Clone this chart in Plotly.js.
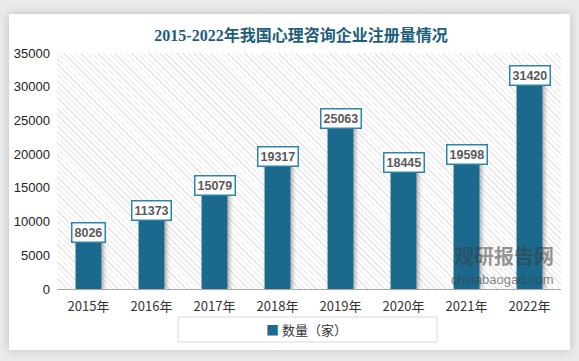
<!DOCTYPE html>
<html><head><meta charset="utf-8">
<script src="https://cdn.plot.ly/plotly-3.0.1.min.js"></script>
<style>
html,body{margin:0;padding:0;width:579px;height:361px;overflow:hidden;background:#e9e9e9;}
#card{position:absolute;left:9px;top:14px;width:561px;height:336px;background:#fff;box-shadow:0 0 8px rgba(0,0,0,0.18);}
#hatch{position:absolute;left:57px;top:53px;width:504px;height:236px;
background:repeating-linear-gradient(45deg,#ffffff 0px,#ffffff 3px,#e6e6e6 3px,#e6e6e6 4px);}
#chart{position:absolute;left:0;top:0;width:579px;height:361px;}
.bars .point path{filter:drop-shadow(2px 1px 2px rgba(0,0,0,0.35));}
</style></head>
<body>
<div id="card"></div>
<div id="hatch"></div>
<div id="chart"></div>
<script>
const years = ['2015年','2016年','2017年','2018年','2019年','2020年','2021年','2022年'];
const counts = [8026, 11373, 15079, 19317, 25063, 18445, 19598, 31420];
const seriesName = '数量（家）';
const titleText = '2015-2022年我国心理咨询企业注册量情况';

const barColor = '#1b6a8e';
const labelAnn = years.map((y,i)=>({
  x:y, y:counts[i], xref:'x', yref:'y', text:String(counts[i]), showarrow:false,
  yanchor:'middle', yshift:2, bgcolor:'#ffffff', bordercolor:'#2b84ad', borderwidth:1.5, borderpad:2,
  font:{family:'Liberation Sans, Arial, sans-serif', size:12.5, color:'#595959', weight:'bold'}
}));
const watermark = [
  {xref:'paper', yref:'paper', x:0.99, y:0.07, xanchor:'right', yanchor:'bottom', showarrow:false,
   text:'<b>观研报告网</b>', font:{family:'Noto Sans CJK SC', size:20, color:'rgba(60,60,60,0.55)'}},
  {xref:'paper', yref:'paper', x:0.99, y:0.0, xanchor:'right', yanchor:'bottom', showarrow:false,
   text:'chinabaogao.com', font:{family:'Liberation Sans, Arial', size:13, color:'rgba(60,60,60,0.65)'}}
];
const legendAnn = {xref:'paper', yref:'paper', x:0.496, y:(289-329)/236, xanchor:'center', yanchor:'middle',
  showarrow:false, text:'<span style="color:'+barColor+'">■</span> '+seriesName,
  font:{family:'"Noto Sans CJK SC", sans-serif', size:13, color:'#333'}};

const data = [{
  type:'bar', x:years, y:counts, name:seriesName,
  marker:{color:barColor}, hoverinfo:'skip'
}];

const layout = {
  width:579, height:361,
  margin:{l:57, r:18, t:53, b:72},
  paper_bgcolor:'rgba(0,0,0,0)', plot_bgcolor:'rgba(0,0,0,0)',
  title:{text:titleText, x:301/579, xanchor:'center', y:1-35/361, yanchor:'middle',
    font:{family:'Liberation Serif, "Noto Sans CJK SC", serif', size:16, color:'#1d5d7c', weight:'bold'}},
  bargap:0.59,
  showlegend:false,
  xaxis:{showline:true, linecolor:'#a6a6a6', linewidth:1, ticks:'', showgrid:false,
    tickfont:{family:'"Noto Sans CJK SC", "Liberation Sans", sans-serif', size:13, color:'#333'},
    ticklabelstandoff:5},
  yaxis:{range:[0,35000], dtick:5000, showgrid:false, zeroline:false, showline:false, ticks:'',
    tickformat:'d',
    tickfont:{family:'"Liberation Sans", Arial, sans-serif', size:13, color:'#222'}, ticklabelstandoff:6},
  annotations: labelAnn.concat(watermark, [legendAnn]),
  shapes:[{type:'rect', xref:'paper', yref:'paper', x0:(178-57)/504, x1:(437-57)/504,
    y0:(289-342)/236, y1:(289-317)/236, line:{color:'#d9d9d9', width:1}, fillcolor:'rgba(0,0,0,0)'}]
};
Plotly.newPlot('chart', data, layout, {staticPlot:true});
</script>
</body></html>
